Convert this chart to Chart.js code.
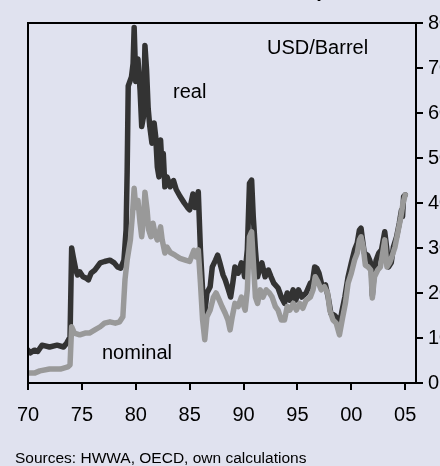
<!DOCTYPE html>
<html>
<head>
<meta charset="utf-8">
<script src="https://cdn.jsdelivr.net/npm/chart.js@4"></script>
<style>
  html, body { margin: 0; padding: 0; background: #e0e2ef; overflow: hidden; }
  #wrap { width: 440px; height: 466px; overflow: hidden; }
</style>
</head>
<body>
<div id="wrap"><canvas id="canvas" width="460" height="466"></canvas></div>
<script>
// oil price, USD per barrel
var realYears = [1970.0, 1970.2, 1970.6, 1970.9, 1971.3, 1972.0, 1972.7, 1973.3, 1973.6, 1973.9,
  1974.05, 1974.2, 1974.45, 1974.6, 1974.8, 1975.1, 1975.4, 1975.6, 1975.85, 1976.2,
  1976.7, 1977.1, 1977.6, 1978.0, 1978.3, 1978.6, 1978.9, 1979.1, 1979.2, 1979.3,
  1979.6, 1979.75, 1979.85, 1980.0, 1980.2, 1980.4, 1980.55, 1980.7, 1980.85, 1981.0,
  1981.15, 1981.3, 1981.5, 1981.7, 1981.85, 1982.0, 1982.15, 1982.3, 1982.45, 1982.55,
  1982.7, 1982.9, 1983.2, 1983.5, 1983.75, 1984.1, 1984.5, 1984.8, 1985.0, 1985.3,
  1985.5, 1985.8, 1986.0, 1986.2, 1986.4, 1986.6, 1986.9, 1987.1, 1987.4, 1987.6,
  1987.8, 1988.1, 1988.3, 1988.6, 1988.8, 1989.0, 1989.2, 1989.5, 1989.8, 1990.0,
  1990.1, 1990.35, 1990.55, 1990.75, 1990.9, 1991.1, 1991.3, 1991.45, 1991.7, 1992.0,
  1992.3, 1992.55, 1992.8, 1993.2, 1993.5, 1993.8, 1994.05, 1994.3, 1994.6, 1994.85,
  1995.1, 1995.4, 1995.8, 1996.2, 1996.4, 1996.6, 1996.8, 1997.0, 1997.3, 1997.6,
  1997.85, 1998.1, 1998.4, 1998.7, 1998.9, 1999.15, 1999.4, 1999.7, 2000.0, 2000.3,
  2000.55, 2000.75, 2000.9, 2001.0, 2001.2, 2001.5, 2001.7, 2001.85, 2001.95, 2002.1,
  2002.3, 2002.55, 2002.8, 2003.1, 2003.3, 2003.45, 2003.7, 2003.9, 2004.2, 2004.45,
  2004.65, 2004.75, 2004.85, 2005.0];
var realPrice = [7.3, 6.7, 7.3, 7.0, 8.4, 8.0, 8.4, 8.0, 8.9, 10.2,
  30, 28, 25, 24, 24.7, 23.6, 23.3, 22.9, 24.4, 25.1,
  26.7, 27, 27.3, 26.7, 25.8, 25.5, 27.3, 34, 47, 66,
  68, 71, 79, 67, 72, 65, 57, 59, 75, 69.6,
  61, 57, 53.3, 57.8, 54.7, 48, 45.8, 54, 47.3, 51,
  43.6, 45.8, 43.6, 45, 43, 41.5, 40, 39, 38.5, 42,
  39, 42.5, 29.5, 20.7, 15.5, 20, 21.4, 25.8, 27.3, 28.4,
  26.7, 24, 22.9, 20.7, 19.1, 22.2, 25.8, 24.4, 26.7, 25.1,
  23.6, 29.6, 44.4, 45.1, 37, 29.6, 23.6, 25, 26.7, 23.6,
  25.1, 23.6, 22.2, 21.1, 19.1, 17.7, 20, 18.4, 20.7, 18.4,
  20.7, 19.1, 20, 22.2, 22.5, 25.8, 25.5, 24.4, 21.4, 21.8,
  19.1, 15.5, 15.1, 14.4, 12.9, 16.2, 19.1, 23.6, 26.7, 29.6,
  31.1, 34, 34.4, 32.5, 28.9, 28.4, 27.3, 26.2, 19.5, 24,
  27.3, 28.9, 29.6, 33.6, 29.6, 25.8, 26.7, 30.2, 32.5, 35.5,
  38.4, 37, 41.4, 41.8];

var nomYears = [1970.0, 1970.6, 1971.1, 1972.0, 1973.0, 1973.7, 1973.9, 1974.05, 1974.3, 1974.8,
  1975.3, 1975.7, 1976.2, 1976.7, 1977.1, 1977.6, 1978.1, 1978.5, 1978.8, 1979.0,
  1979.2, 1979.5, 1979.7, 1979.85, 1980.0, 1980.2, 1980.4, 1980.55, 1980.7, 1980.85,
  1981.05, 1981.2, 1981.4, 1981.6, 1981.8, 1982.0, 1982.3, 1982.45, 1982.7, 1982.9,
  1983.2, 1983.65, 1984.1, 1984.6, 1985.0, 1985.4, 1985.6, 1985.8, 1986.0, 1986.2,
  1986.4, 1986.6, 1986.9, 1987.2, 1987.45, 1987.75, 1988.0, 1988.3, 1988.55, 1988.75,
  1988.95, 1989.2, 1989.5, 1989.8, 1989.95, 1990.15, 1990.35, 1990.55, 1990.75, 1990.9,
  1991.1, 1991.3, 1991.55, 1991.8, 1992.1, 1992.4, 1992.65, 1992.95, 1993.2, 1993.5,
  1993.8, 1994.05, 1994.3, 1994.6, 1994.9, 1995.2, 1995.5, 1995.8, 1996.2, 1996.45,
  1996.65, 1996.9, 1997.2, 1997.5, 1997.8, 1998.0, 1998.3, 1998.6, 1998.9, 1999.15,
  1999.45, 1999.7, 2000.0, 2000.3, 2000.55, 2000.75, 2000.9, 2001.1, 2001.3, 2001.55,
  2001.8, 2001.95, 2002.15, 2002.45, 2002.7, 2003.1, 2003.3, 2003.55, 2003.75, 2004.05,
  2004.3, 2004.6, 2004.8, 2005.0];
var nomPrice = [2.2, 2.2, 2.7, 3.1, 3.1, 3.6, 4.0, 12.5, 11.1, 10.7,
  11.1, 11.1, 11.8, 12.5, 13.3, 13.6, 13.3, 13.6, 14.7, 23,
  27.3, 31.8, 37.7, 43.3, 39, 40.6, 35.5, 32.5, 36, 42.4,
  38.5, 34, 32.5, 35.5, 33, 31.8, 34.7, 31.8, 28.9, 30.2,
  29, 28.4, 27.7, 27.3, 27, 29.5, 28, 29.6, 22.2, 14,
  9.6, 14.7, 16.2, 19, 20, 18.4, 17, 15.5, 14, 11.8,
  14.7, 17.7, 17, 19.1, 17.7, 16.2, 20.7, 32.5, 33.6, 27.3,
  19.1, 17.7, 20.7, 19.1, 20.7, 20, 19.1, 17, 16.2, 14,
  14, 17, 16.2, 17.7, 16.2, 17.7, 16.6, 18.4, 19.1, 20.7,
  23.6, 22.5, 20.7, 21.4, 20, 16.2, 14, 13.3, 10.7, 14,
  17.7, 22.2, 24.4, 27.3, 28.9, 31.8, 32.5, 30.2, 26.2, 25.8,
  25.1, 18.9, 23.6, 25.1, 25.8, 31.8, 25.8, 26.7, 28, 30.2,
  33.3, 37, 40, 41.8];

var xTicks = [1970, 1975, 1980, 1985, 1990, 1995, 2000, 2005];
var yTicks = [0, 10, 20, 30, 40, 50, 60, 70, 80];

function pts(xs, ys) {
  return xs.map(function (x, i) { return { x: x, y: ys[i] }; });
}

var textPlugin = {
  id: 'texts',
  afterDraw: function (chart) {
    var c = chart.ctx;
    var a = chart.chartArea;
    c.save();
    // left and top frame lines
    c.strokeStyle = '#000';
    c.lineWidth = 2;
    c.beginPath();
    c.moveTo(a.left, a.bottom);
    c.lineTo(a.left, a.top);
    c.lineTo(a.right, a.top);
    c.stroke();

    c.fillStyle = '#000';
    c.textBaseline = 'middle';
    c.font = '20px Arial, "Liberation Sans", sans-serif';
    c.fillText('USD/Barrel', 267, 48);
    c.fillText('real', 173, 92);
    c.fillText('nominal', 102, 353);
    c.font = '15.5px Arial, "Liberation Sans", sans-serif';
    c.fillText('Sources: HWWA, OECD, own calculations', 15, 459);
    // title, cut off at the top of the picture
    c.textBaseline = 'alphabetic';
    c.font = 'bold 20px Arial, "Liberation Sans", sans-serif';
    c.fillText('Oil price', 284, -3);
    c.restore();
  }
};

const ctx = document.getElementById('canvas').getContext('2d');
const myChart = new Chart(ctx, {
  type: 'line',
  data: {
    datasets: [{
      label: 'nominal',
      data: pts(nomYears, nomPrice),
      borderColor: '#999999',
      borderWidth: 5.5,
      pointRadius: 0,
      borderJoinStyle: 'round',
      borderCapStyle: 'round'
    }, {
      label: 'real',
      data: pts(realYears, realPrice),
      borderColor: '#333333',
      borderWidth: 5.5,
      pointRadius: 0,
      borderJoinStyle: 'round',
      borderCapStyle: 'round'
    }]
  },
  options: {
    responsive: false,
    devicePixelRatio: 1,
    animation: false,
    layout: { padding: { left: 28, top: 23, right: 0, bottom: 0 } },
    plugins: {
      legend: { display: false },
      tooltip: { enabled: false },
      title: { display: false }
    },
    scales: {
      x: {
        type: 'linear',
        position: 'bottom',
        min: 1970,
        max: 2006,
        afterBuildTicks: function (scale) {
          scale.ticks = xTicks.map(function (v) { return { value: v }; });
        },
        afterFit: function (scale) { scale.height = 83; },
        grid: { drawOnChartArea: false, drawTicks: true, tickLength: 7, color: '#000', lineWidth: 2 },
        border: { display: true, color: '#000', width: 2 },
        ticks: {
          autoSkip: false,
          maxRotation: 0,
          padding: 13,
          color: '#000',
          font: { family: 'Arial, "Liberation Sans", sans-serif', size: 20 },
          callback: function (v) { return String(v % 100).padStart(2, '0'); }
        }
      },
      y: {
        position: 'right',
        min: 0,
        max: 80,
        afterBuildTicks: function (scale) {
          scale.ticks = yTicks.map(function (v) { return { value: v }; });
        },
        afterFit: function (scale) { scale.width = 44; },
        grid: { drawOnChartArea: false, drawTicks: true, tickLength: 7, color: '#000', lineWidth: 2 },
        border: { display: true, color: '#000', width: 2 },
        ticks: {
          padding: 5,
          color: '#000',
          font: { family: 'Arial, "Liberation Sans", sans-serif', size: 20 }
        }
      }
    }
  },
  plugins: [textPlugin]
});
</script>
</body>
</html>
